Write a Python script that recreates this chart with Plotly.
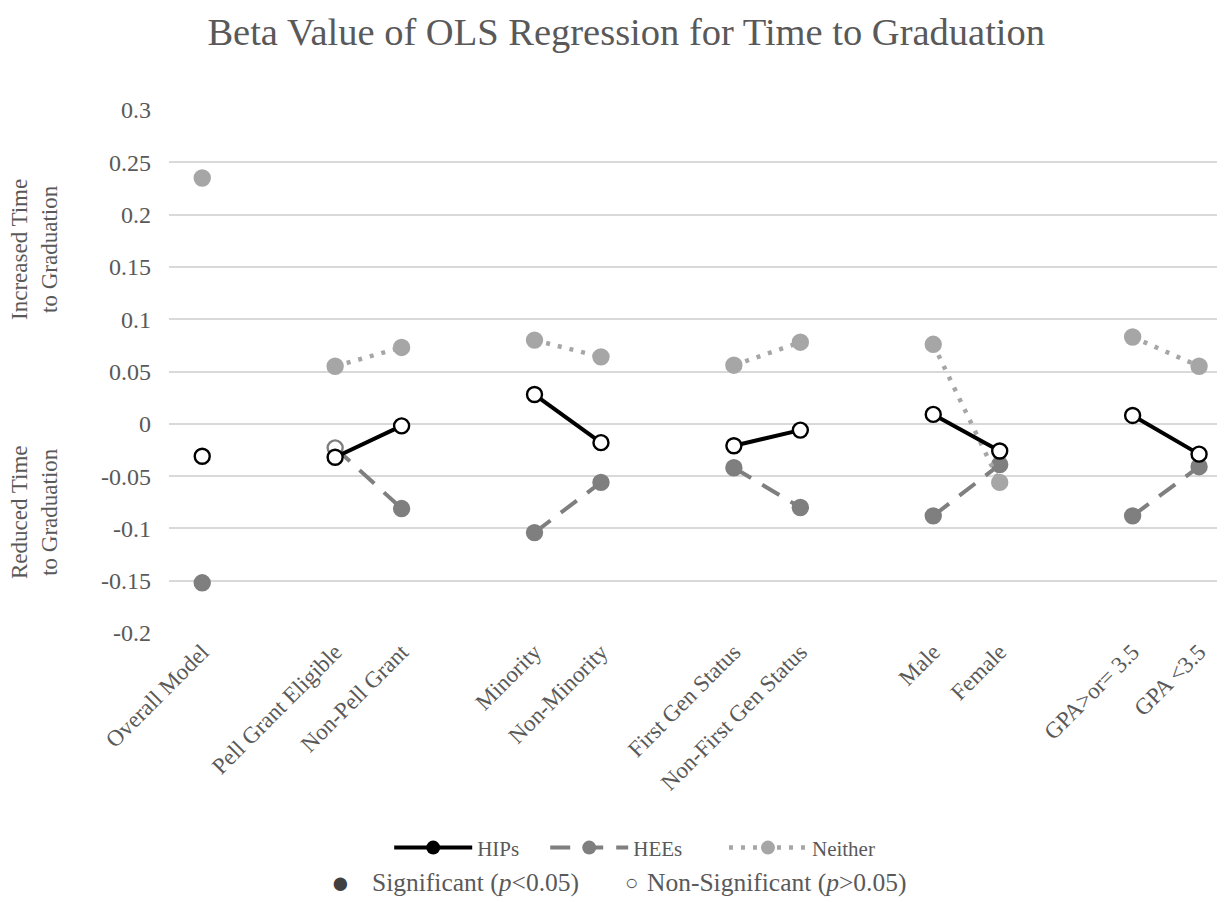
import plotly.graph_objects as go

categories = ["Overall Model", "Pell Grant Eligible", "Non-Pell Grant", "Minority", "Non-Minority",
              "First Gen Status", "Non-First Gen Status", "Male", "Female", "GPA>or= 3.5", "GPA <3.5"]
slots = [0, 2, 3, 5, 6, 8, 9, 11, 12, 14, 15]
groups = [[0], [1, 2], [3, 4], [5, 6], [7, 8], [9, 10]]

hips = [-0.031, -0.032, -0.002, 0.028, -0.018, -0.021, -0.006, 0.009, -0.026, 0.008, -0.029]
hips_sig = [False] * 11
hees = [-0.152, -0.023, -0.081, -0.104, -0.056, -0.042, -0.080, -0.088, -0.039, -0.088, -0.041]
hees_sig = [True, False, True, True, True, True, True, True, True, True, True]
neither = [0.235, 0.055, 0.073, 0.080, 0.064, 0.056, 0.078, 0.076, -0.056, 0.083, 0.055]
neither_sig = [True] * 11

y_ticks = [-0.2, -0.15, -0.1, -0.05, 0, 0.05, 0.1, 0.15, 0.2, 0.25, 0.3]
y_ticktext = ["-0.2", "-0.15", "-0.1", "-0.05", "0", "0.05", "0.1", "0.15", "0.2", "0.25", "0.3"]

FONT = "Liberation Serif"
TXT = "#595959"
NB = "\u00a0"


def with_gaps(vals):
    xs, ys, idx = [], [], []
    for g in groups:
        for i in g:
            xs.append(slots[i]); ys.append(vals[i]); idx.append(i)
        xs.append(None); ys.append(None); idx.append(None)
    return xs, ys, idx


fig = go.Figure()

series = [
    ("HEEs", hees, hees_sig, "#7f7f7f", "20px,13px", 4, 7),
    ("Neither", neither, neither_sig, "#a6a6a6", "4px,8px", 4.5, 0),
    ("HIPs", hips, hips_sig, "#000000", "solid", 4, 4),
]

for name, vals, sig, color, dash, lw, pad in series:
    xs, ys, idx = with_gaps(vals)
    fills = [(color if sig[i] else "white") if i is not None else "white" for i in idx]
    fig.add_trace(go.Scatter(
        x=xs, y=ys, mode="lines+markers", showlegend=False, connectgaps=False,
        line=dict(color=color, width=lw, dash=dash),
        marker=dict(size=15, color=fills, line=dict(color=color, width=2.4)),
        hoverinfo="skip"))

for name, vals, sig, color, dash, lw, pad in [series[2], series[0], series[1]]:
    fig.add_trace(go.Scatter(
        x=[None], y=[None], mode="lines+markers", name=name + NB * pad,
        line=dict(color=color, width=lw, dash=dash),
        marker=dict(size=14, color=color)))

fig.update_layout(
    width=1217, height=894,
    paper_bgcolor="white", plot_bgcolor="white",
    margin=dict(l=161, r=0, t=102, b=269),
    font=dict(family=FONT, color=TXT, size=22),
    title=dict(text="Beta Value of OLS Regression for Time to Graduation",
               x=0.508, xanchor="center", y=0.974, yanchor="middle",
               font=dict(family=FONT, size=38.5, color=TXT)),
    xaxis=dict(range=[-0.5, 15.39], tickvals=slots, ticktext=categories, tickangle=-45,
               showgrid=False, zeroline=False, showline=False, ticks="",
               tickfont=dict(family=FONT, size=23, color=TXT)),
    yaxis=dict(range=[-0.2, 0.3], tickvals=y_ticks, ticktext=y_ticktext,
               showgrid=True, gridcolor="#d9d9d9", gridwidth=1.5, zeroline=False,
               showline=False, ticks="", ticklabelstandoff=17,
               tickfont=dict(family=FONT, size=24, color=TXT)),
    legend=dict(orientation="h", x=0.441, xanchor="center", y=-0.411, yanchor="middle",
                itemwidth=78, font=dict(family=FONT, size=21, color=TXT),
                bgcolor="rgba(0,0,0,0)"),
    showlegend=True,
)

fig.add_annotation(text="Increased Time<br>to Graduation", xref="paper", yref="paper",
                   x=-0.128, y=0.734, textangle=-90, showarrow=False, xanchor="center", yanchor="middle",
                   font=dict(family=FONT, size=23, color=TXT))
fig.add_annotation(text="Reduced Time<br>to Graduation", xref="paper", yref="paper",
                   x=-0.128, y=0.231, textangle=-90, showarrow=False, xanchor="center", yanchor="middle",
                   font=dict(family=FONT, size=23, color=TXT))

sig_y = -0.478
fig.add_annotation(text="●", xref="paper", yref="paper", x=0.162, y=sig_y, showarrow=False,
                   xanchor="center", yanchor="middle", font=dict(family=FONT, size=31, color="#404040"))
fig.add_annotation(text="Significant (<i>p</i><0.05)", xref="paper", yref="paper", x=0.190, y=sig_y,
                   showarrow=False, xanchor="left", yanchor="middle",
                   font=dict(family=FONT, size=25.5, color=TXT))
fig.add_annotation(text="○", xref="paper", yref="paper", x=0.4384, y=sig_y, showarrow=False,
                   xanchor="center", yanchor="middle", font=dict(family=FONT, size=22, color=TXT))
fig.add_annotation(text="Non-Significant (<i>p</i>>0.05)", xref="paper", yref="paper", x=0.4508, y=sig_y,
                   showarrow=False, xanchor="left", yanchor="middle",
                   font=dict(family=FONT, size=25.5, color=TXT))

fig.write_html("out.html")
